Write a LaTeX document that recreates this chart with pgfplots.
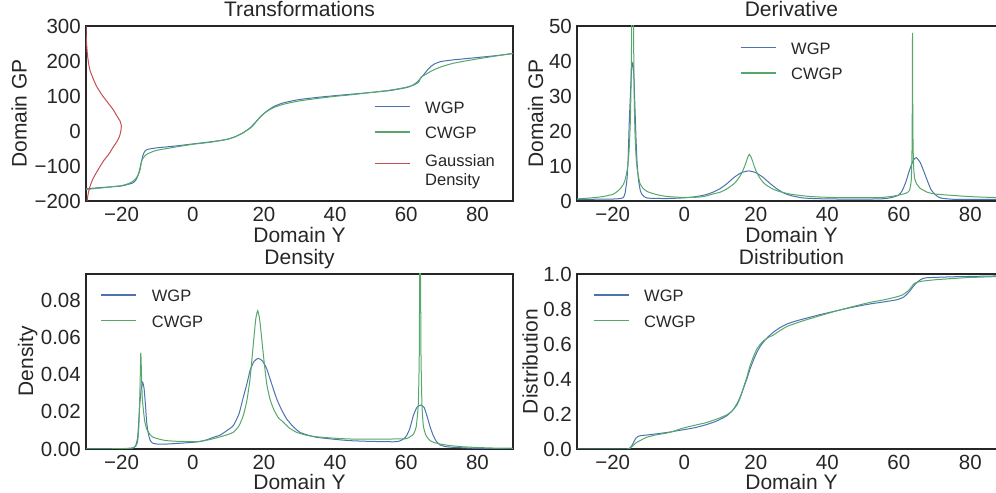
\documentclass[border=0pt]{standalone}
\usepackage{pgfplots}
\pgfplotsset{compat=1.18}
\usepackage{fontspec}
\setmainfont{Liberation Sans}
\definecolor{sbblue}{HTML}{4C72B0}
\definecolor{sbgreen}{HTML}{55A868}
\definecolor{sbred}{HTML}{C44E52}
\definecolor{textgray}{HTML}{262626}
\newcommand\tickfont{\fontsize{20.5bp}{24bp}\selectfont}
\newcommand\labelfont{\fontsize{21bp}{25bp}\selectfont}
\newcommand\legendfont{\fontsize{16.5bp}{19.5bp}\selectfont}
\pgfplotsset{
  legend image code/.code={\draw[#1, line width=1.2bp] (0bp,2bp) -- (35bp,2bp);},
}
\pgfplotsset{
  every axis/.append style={
    scale only axis, anchor=south west,
    axis line style={draw=textgray, line width=1.1bp},
    major tick length=0pt,
    tick label style={font=\tickfont, text=textgray, inner sep=0pt},
    xticklabel shift=5.5bp, yticklabel shift=5bp,
    scaled ticks=false,
    xlabel style={font=\labelfont, text=textgray, inner sep=0pt, anchor=base, at={(axis description cs:0.5,-0.24)}},
    ylabel style={font=\labelfont, text=textgray, inner sep=0pt, anchor=base, rotate=0},
    title style={font=\labelfont, text=textgray, inner sep=0pt, anchor=base, at={(axis description cs:0.5,1.02)}},
    legend style={draw=none, fill=none, font=\legendfont, inner sep=0pt, outer sep=0pt,
      row sep=12.2bp, column sep=0pt, cells={anchor=west}, nodes={inner sep=0pt},
      /tikz/every odd column/.append style={column sep=15bp}},
    legend cell align=left,
    every axis plot/.append style={line width=1bp, smooth, tension=0.3},
    xmin=-30, xmax=90,
    xtick={-20,0,20,40,60,80},
    xticklabels={−20,0,20,40,60,80},
  }
}
\newcommand\legtext[1]{\textcolor{textgray}{#1}}
\begin{document}
\begin{tikzpicture}
\useasboundingbox (0,0) rectangle (996bp,493bp);
% ---------------- Transformations ----------------
\begin{axis}[at={(86bp,292bp)}, width=427bp, height=175bp,
  ymin=-200, ymax=300, ytick={-200,-100,0,100,200,300},
  yticklabels={−200,−100,0,100,200,300},
  title={Transformations}, xlabel={Domain Y}, ylabel={Domain GP},
  ylabel style={at={(axis description cs:-0.139,0.5)}},
  legend style={at={(axis description cs:0.6745,0.5646)}, anchor=north west}]
\addplot[color=sbblue] coordinates {
(-30,-165) (-25,-161) (-20,-157) (-18,-152) (-17,-149) (-16.5,-146) (-16,-140) (-15.5,-130)
(-15,-114) (-14.7,-100) (-14.4,-87) (-14,-70) (-13.6,-60) (-13.2,-55) (-12.5,-52) (-11,-49.5)
(-10,-48) (-5,-43) (0,-37) (5,-31) (8,-27) (10,-23) (12,-16) (14,-6) (16,8) (17,18) (18,29)
(19,40) (20,50) (21,58) (22,65) (23,71) (25,79) (27,84) (30,90) (35,96) (40,101) (45,105.5)
(50,110) (55,115) (58,120) (60,124) (61,127) (62,132) (63,139) (64,150) (65,162) (66,175)
(67,185) (68,192) (69,196) (70,199) (73,203) (76,206) (80,210) (85,215) (90,221)};
\addlegendentry{\legtext{WGP}}
\addplot[color=sbgreen] coordinates {
(-30,-167) (-25,-162) (-20,-156) (-18,-150) (-17,-145) (-16,-136) (-15.5,-128) (-15,-118)
(-14.7,-105) (-14.5,-92) (-14.3,-84) (-14,-78) (-13.5,-72) (-13,-67) (-12,-62) (-11,-58)
(-10,-55) (-5,-46) (0,-38) (5,-32) (10,-23) (12,-16) (14,-6) (16,7) (17,16) (18,29) (19,41)
(20,50) (21,57) (22,63) (23,68) (25,75) (27,80) (30,86) (35,93) (40,99) (45,104) (50,110)
(55,116) (58,121) (60,125) (62,131) (63,136) (63.6,141) (63.9,150) (64.3,155) (65,159)
(66,165) (67,171) (68,176) (70,184) (73,193) (76,199) (80,206) (85,214) (90,222)};
\addlegendentry{\legtext{CWGP}}
\addplot[color=sbred] coordinates {
(-30,300) (-29.9,260) (-29.63,222) (-29.3,195) (-28.9,174) (-28.0,150) (-27.0,127)
(-25.5,103) (-23.7,79) (-22.3,60) (-21.2,41) (-20.4,28) (-20.07,14) (-20.2,0) (-20.6,-16)
(-21.3,-30) (-22.3,-45) (-23.5,-65) (-24.9,-83) (-26.1,-102) (-27.2,-121) (-28.2,-140)
(-28.9,-159) (-29.4,-180) (-29.7,-200)};
\addlegendentry{\legtext{\begin{tabular}{@{}l@{}}Gaussian\\Density\end{tabular}}}
\end{axis}
% ---------------- Derivative ----------------
\begin{axis}[at={(577bp,292bp)}, width=429bp, height=175bp,
  ymin=0, ymax=50, ytick={0,10,20,30,40,50},
  yticklabels={0,10,20,30,40,50},
  title={Derivative}, xlabel={Domain Y}, ylabel={Domain GP},
  ylabel style={at={(axis description cs:-0.079,0.5)}},
  legend style={at={(axis description cs:0.38,0.9017)}, anchor=north west}]
\addplot[color=sbblue] coordinates {
(-30,0.45) (-25,0.5) (-20,0.55) (-18,0.7) (-17,1.0) (-16.5,2.5) (-16,6.5) (-15.7,12)
(-15.4,22) (-15,32) (-14.7,38) (-14.4,39.5) (-14.1,36) (-13.8,27) (-13.5,18) (-13.2,11)
(-12.8,6) (-12.3,3) (-11.9,2) (-11,1.1) (-10,0.8) (-5,0.7) (0,0.9) (3,1.2) (6,1.8) (8,2.5)
(10,3.5) (12,5.0) (14,6.8) (16,8.1) (18,8.6) (20,8.1) (22,6.8) (24,5.0) (25,4.2) (26,3.4)
(28,2.2) (30,1.5) (33,0.9) (36,0.7) (40,0.6) (45,0.55) (50,0.55) (55,0.6) (57,0.8) (58,1.0)
(59,1.3) (60,1.7) (61,3.0) (62,5.5) (63,8.8) (64,11.5) (64.9,12.4) (66,11.0) (67,8.5)
(68,5.8) (69,3.3) (70,2.0) (71,1.2) (72,0.8) (75,0.5) (80,0.45) (90,0.45)};
\addlegendentry{\legtext{WGP}}
\addplot[color=sbgreen] coordinates {
(-30,0.6) (-27,0.8) (-24,1.1) (-22,1.4) (-20,1.9) (-19,2.5) (-18,3.4) (-17,4.8) (-16.5,6.2)
(-16,8.6) (-15.7,11) (-15.4,15) (-15.1,22) (-14.9,32) (-14.7,50) (-14.55,80) (-14.45,110)
(-14.35,80) (-14.2,50) (-14.0,30) (-13.8,20) (-13.5,13) (-13.2,9.5) (-12.8,7) (-12.4,5)
(-11.5,3.6) (-10.5,2.8) (-9.6,2.4) (-8,1.9) (-5,1.3) (0,1.0) (4,1.1) (6,1.4) (8,2.0)
(10,2.5) (12,3.5) (14,5.0) (15,6.2) (16,7.8) (17,10.2) (17.8,12.6) (18.2,13.3) (18.8,12.3)
(19.5,10.2) (20,8.8) (21,6.8) (22,5.4) (23,4.5) (25,3.3) (27,2.6) (30,1.9) (35,1.3)
(40,1.05) (45,0.95) (50,0.95) (55,1.0) (58,1.3) (60,1.7) (62,2.2) (63,3.0) (63.5,6)
(63.7,14) (63.8,30) (63.85,48) (63.9,30) (64.0,16) (64.2,9) (64.5,6.2) (65,4.9) (66,3.6)
(68,2.5) (70,2.0) (75,1.6) (80,1.25) (85,1.05) (90,0.9)};
\addlegendentry{\legtext{CWGP}}
\end{axis}
% ---------------- Density ----------------
\begin{axis}[at={(86bp,44bp)}, width=427bp, height=175bp,
  ymin=0, ymax=0.0944, ytick={0,0.02,0.04,0.06,0.08},
  yticklabels={0.00,0.02,0.04,0.06,0.08},
  title={Density}, xlabel={Domain Y}, ylabel={Density},
  xlabel style={at={(axis description cs:0.5,-0.233)}},
  ylabel style={at={(axis description cs:-0.124,0.5)}},
  legend style={at={(axis description cs:0.0344,0.906)}, anchor=north west}]
\addplot[color=sbblue] coordinates {
(-30,0) (-20,0.00005) (-17.5,0.0002) (-16.7,0.0005) (-16,0.002) (-15.5,0.006) (-15.2,0.014)
(-14.9,0.024) (-14.5,0.032) (-14.1,0.036) (-13.7,0.033) (-13.3,0.024) (-12.95,0.0144)
(-12.5,0.0085) (-12,0.0048) (-11.3,0.0032) (-10.1,0.0027) (-7,0.0027) (-3.6,0.0031)
(0,0.0036) (2,0.0040) (4,0.005) (5.8,0.0063) (7.7,0.0075) (9.5,0.0098) (11.4,0.0126)
(13,0.019) (14.2,0.0279) (15.2,0.035) (16.1,0.0423) (17.2,0.0472) (18.4,0.0489)
(19.6,0.0475) (20.8,0.0432) (22.2,0.035) (23.6,0.027) (25,0.021) (26.4,0.0162)
(28.2,0.0121) (30.1,0.009) (32.5,0.0074) (34.8,0.0063) (40,0.0052) (44.2,0.0045)
(50,0.0041) (56.4,0.0039) (58,0.0042) (59.3,0.0055) (60.1,0.0072) (61,0.011) (62,0.018)
(63,0.0225) (64.07,0.0237) (65,0.0225) (65.8,0.018) (66.7,0.012) (67.6,0.0072)
(68.5,0.0040) (69.5,0.0022) (71,0.0013) (73.2,0.0009) (80,0.0003) (90,0.0001)};
\addlegendentry{\legtext{WGP}}
\addplot[color=sbgreen] coordinates {
(-30,0) (-20,0.0002) (-17,0.0006) (-16,0.0015) (-15.5,0.004) (-15.2,0.010) (-15.0,0.02)
(-14.8,0.035) (-14.6,0.052) (-14.4,0.040) (-14.2,0.028) (-13.9,0.0216) (-13.5,0.015)
(-12.95,0.0108) (-12,0.0078) (-11.1,0.0063) (-9,0.0051) (-7.3,0.0045) (-4,0.0041)
(0,0.0040) (1.1,0.004) (3,0.0044) (5,0.0052) (6.7,0.006) (9,0.0073) (11.4,0.009)
(13,0.0125) (14.2,0.018) (15.2,0.026) (16.1,0.0378) (17.0,0.056) (17.7,0.070)
(18.25,0.0746) (18.8,0.070) (19.3,0.061) (20,0.048) (20.8,0.035) (21.7,0.027)
(22.7,0.0216) (24,0.017) (25.5,0.0144) (27,0.0115) (29.2,0.009) (32,0.0074) (34.8,0.0066)
(40,0.0058) (44.2,0.0054) (50,0.0053) (56.4,0.0054) (60.1,0.0056) (62,0.008) (62.8,0.012)
(63.4,0.025) (63.7,0.06) (63.9,0.2) (64.1,0.06) (64.4,0.025) (64.8,0.0126) (65.5,0.0075)
(66.7,0.0045) (68,0.0034) (69.5,0.0027) (72,0.0019) (76,0.0012) (80,0.0008) (85,0.0005)
(90,0.0004)};
\addlegendentry{\legtext{CWGP}}
\end{axis}
% ---------------- Distribution ----------------
\begin{axis}[at={(577bp,44bp)}, width=429bp, height=175bp,
  ymin=0, ymax=1, ytick={0,0.2,0.4,0.6,0.8,1},
  yticklabels={0.0,0.2,0.4,0.6,0.8,1.0},
  title={Distribution}, xlabel={Domain Y}, ylabel={Distribution},
  xlabel style={at={(axis description cs:0.5,-0.233)}},
  ylabel style={at={(axis description cs:-0.092,0.5)}},
  legend style={at={(axis description cs:0.0373,0.906)}, anchor=north west}]
\addplot[color=sbblue] coordinates {
(-30,0) (-16,0) (-15.4,0.003) (-15,0.01) (-14.5,0.025) (-14,0.045) (-13.5,0.062) (-13,0.071)
(-12.5,0.075) (-11.9,0.077) (-10,0.081) (-5,0.094) (-0.25,0.11) (3,0.122) (6,0.138)
(9.1,0.16) (11.9,0.19) (13.5,0.22) (14.7,0.257) (15.6,0.295) (16.5,0.343) (17.5,0.40)
(18.4,0.457) (19.4,0.51) (20.3,0.552) (21.2,0.585) (22.1,0.61) (23.5,0.642) (24.9,0.667)
(26.5,0.69) (28.7,0.714) (31,0.73) (33.3,0.743) (38,0.768) (42.7,0.79) (47,0.81) (52,0.829)
(56,0.841) (59.5,0.853) (61.3,0.867) (62.3,0.885) (63.2,0.905) (64.1,0.93) (65.1,0.952)
(66,0.966) (66.9,0.975) (68,0.979) (70.7,0.981) (75,0.984) (80,0.986) (90,0.99)};
\addlegendentry{\legtext{WGP}}
\addplot[color=sbgreen] coordinates {
(-30,0) (-16,0) (-15.2,0.005) (-14.5,0.016) (-14,0.026) (-13.3,0.038) (-12,0.052)
(-10.5,0.067) (-8,0.08) (-4,0.095) (-0.25,0.12) (3,0.136) (6,0.15) (9.1,0.171) (11.9,0.195)
(13.5,0.22) (14.7,0.25) (15.6,0.29) (16.5,0.347) (17.5,0.41) (18.4,0.476) (19.4,0.53)
(20.3,0.571) (21.2,0.597) (22.1,0.617) (23.5,0.637) (24.9,0.651) (26.5,0.673) (28.7,0.70)
(31,0.717) (33.3,0.733) (38,0.762) (42.7,0.79) (47,0.813) (52,0.838) (56,0.853) (59.5,0.87)
(61,0.88) (62.7,0.905) (63.5,0.925) (64.2,0.943) (65,0.952) (66.9,0.96) (70.7,0.968)
(75,0.974) (80,0.98) (90,0.987)};
\addlegendentry{\legtext{CWGP}}
\end{axis}
\end{tikzpicture}
\end{document}
